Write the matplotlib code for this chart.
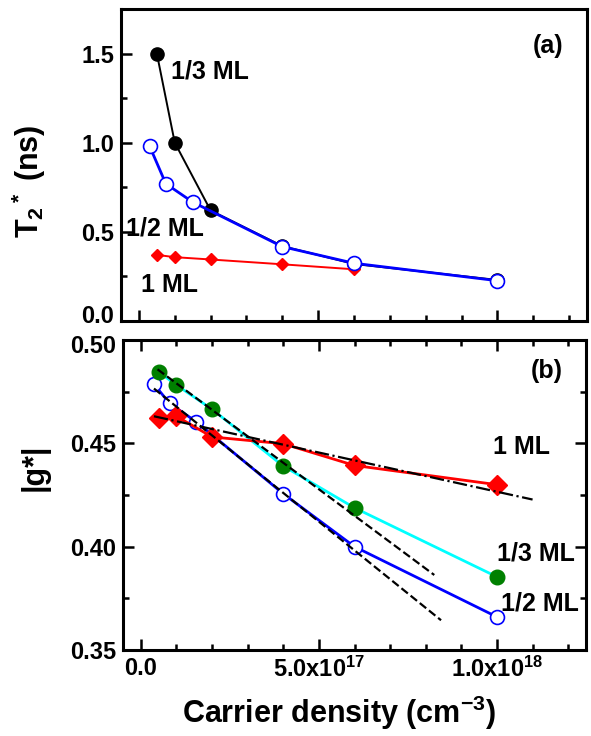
import matplotlib
matplotlib.use("Agg")
import matplotlib.pyplot as plt
from matplotlib.ticker import MultipleLocator, FixedLocator, FormatStrFormatter
from matplotlib.transforms import ScaledTranslation

plt.rcParams['font.family'] = ['Liberation Sans', 'DejaVu Sans']
plt.rcParams['font.weight'] = 'bold'
plt.rcParams['mathtext.fontset'] = 'custom'
plt.rcParams['mathtext.rm'] = 'Liberation Sans:bold'
plt.rcParams['mathtext.bf'] = 'Liberation Sans:bold'
plt.rcParams['mathtext.it'] = 'Liberation Sans:bold'
plt.rcParams['mathtext.default'] = 'bf'
plt.rcParams['axes.unicode_minus'] = False

# ---- data (units of 1e17 cm^-3) ----
x_third = [0.5, 1.0, 2.0, 4.0, 6.0, 10.0]
x_half = [0.3, 0.75, 1.5, 4.0, 6.0, 10.0]
x_one_a = [0.5, 1.0, 2.0, 4.0, 6.0]
x_one_b = [0.5, 1.0, 2.0, 4.0, 6.0, 10.0]

t2_third = [1.50, 1.00, 0.62, 0.42, 0.32, 0.23]
t2_half = [0.98, 0.77, 0.667, 0.417, 0.324, 0.226]
t2_one = [0.371, 0.358, 0.345, 0.318, 0.290]

g_third = [0.4846, 0.4782, 0.4665, 0.4390, 0.4188, 0.3854]
g_half_x = [0.37, 0.81, 1.56, 4.0, 6.0, 10.0]
g_half = [0.4786, 0.4693, 0.4604, 0.4256, 0.4000, 0.3660]
g_one = [0.4625, 0.4631, 0.4531, 0.4498, 0.4393, 0.4300]

fit_third_x = [0.47, 8.24]
fit_third_y = [0.4858, 0.3863]
fit_half_x = [0.37, 8.43]
fit_half_y = [0.4765, 0.3644]
fit_one_x = [0.37, 11.0]
fit_one_y = [0.4631, 0.4228]

xticks = [0, 5, 10]
xtick_labels = ['0.0', r'5.0x10$^{17}$', r'1.0x10$^{18}$']

W, H = 591, 736
fig = plt.figure(figsize=(W / 100, H / 100), dpi=100)

def rect(l, r, t, b):
    return [l / W, 1 - b / H, (r - l) / W, (b - t) / H]

ax1 = fig.add_axes(rect(121, 587, 9, 321))
ax2 = fig.add_axes(rect(123, 586, 340, 650))

FS_TICK = 17
FS_LAB = 22
FS_TXT = 18

for ax in (ax1, ax2):
    for s in ax.spines.values():
        s.set_linewidth(2.2)
    ax.set_xlim(-0.5, 12.5)
    ax.xaxis.set_major_locator(FixedLocator(xticks))
    ax.xaxis.set_minor_locator(MultipleLocator(1))
    ax.tick_params(which='both', direction='in', width=1.8)
    ax.tick_params(which='major', length=8, labelsize=FS_TICK, pad=5)
    ax.tick_params(which='minor', length=4.5)

# ---- panel (a) ----
ax1.plot(x_third, t2_third, '-', color='black', lw=1.4, marker='o', ms=9.5,
         mfc='black', mec='black', zorder=3)
ax1.plot(x_half, t2_half, '-', color='blue', lw=2.0, marker='o', ms=10,
         mfc='white', mec='blue', mew=1.2, zorder=4)
ax1.plot(x_one_a, t2_one, '-', color='red', lw=1.4, marker='D', ms=6.5,
         mfc='red', mec='red', zorder=3)
ax1.set_ylim(0, 1.75)
ax1.yaxis.set_major_locator(MultipleLocator(0.5))
ax1.yaxis.set_minor_locator(MultipleLocator(0.25))
ax1.yaxis.set_major_formatter(FormatStrFormatter('%.1f'))
ax1.tick_params(labelbottom=False)
ax1.set_ylabel(r'T$_2$$^*$ (ns)', fontsize=FS_LAB, fontweight='bold')
ax1.yaxis.set_label_coords(-0.157, 0.449)
ax1.text(0.95, 0.88, '(a)', transform=ax1.transAxes, fontsize=FS_TXT,
         fontweight='bold', ha='right', va='center')
ax1.text(0.9, 1.40, '1/3 ML', fontsize=FS_TXT, fontweight='bold', va='center')
ax1.text(-0.35, 0.52, '1/2 ML', fontsize=FS_TXT, fontweight='bold', va='center')
ax1.text(0.05, 0.20, '1 ML', fontsize=FS_TXT, fontweight='bold', va='center')

# ---- panel (b) ----
ax2.plot(g_half_x, g_half, '-', color='blue', lw=2.0, marker='o', ms=10,
         mfc='white', mec='blue', mew=1.2, zorder=3)
ax2.plot(x_third, g_third, '-', color='cyan', lw=2.0, marker='o', ms=10.5,
         mfc='green', mec='green', zorder=3)
ax2.plot(x_one_b, g_one, '-', color='red', lw=2.0, marker='D', ms=10,
         mfc='red', mec='red', zorder=3)
ax2.plot(fit_third_x, fit_third_y, '--', color='black', lw=1.6, zorder=4)
ax2.plot(fit_half_x, fit_half_y, '--', color='black', lw=1.6, zorder=4)
ax2.plot(fit_one_x, fit_one_y, '-.', color='black', lw=1.6, zorder=4)
ax2.set_ylim(0.35, 0.50)
ax2.yaxis.set_major_locator(MultipleLocator(0.05))
ax2.yaxis.set_minor_locator(MultipleLocator(0.025))
ax2.yaxis.set_major_formatter(FormatStrFormatter('%.2f'))
ax2.tick_params(which='both', top=True, right=True)
ax2.set_xticklabels(xtick_labels)
for lbl in ax2.get_xticklabels() + ax2.get_yticklabels() + ax1.get_yticklabels():
    lbl.set_fontweight('bold')
ax2.set_ylabel('|g*|', fontsize=FS_LAB, fontweight='bold')
ax2.yaxis.set_label_coords(-0.158, 0.59)
ax2.set_xlabel(r'Carrier density (cm$^{-3}$)', fontsize=FS_LAB,
               fontweight='bold')
ax2.xaxis.set_label_coords(0.466, -0.142)
ax2.text(0.95, 0.90, '(b)', transform=ax2.transAxes, fontsize=FS_TXT,
         fontweight='bold', ha='right', va='center')
ax2.text(9.9, 0.448, '1 ML', fontsize=FS_TXT, fontweight='bold', va='center')
ax2.text(10.0, 0.3965, '1/3 ML', fontsize=FS_TXT, fontweight='bold', va='center')
ax2.text(10.1, 0.3725, '1/2 ML', fontsize=FS_TXT, fontweight='bold', va='center')

# nudge the two crowded corner tick labels apart a little
fig.canvas.draw()
lab_a = [t for t in ax1.get_yticklabels() if t.get_text() == '0.0']
lab_b = [t for t in ax2.get_yticklabels() if t.get_text() == '0.50']
for t in lab_a:
    t.set_transform(t.get_transform() + ScaledTranslation(0, 5 / 72, fig.dpi_scale_trans))
for t in lab_b:
    t.set_transform(t.get_transform() + ScaledTranslation(0, -3 / 72, fig.dpi_scale_trans))

fig.savefig('out.png', dpi=100)
